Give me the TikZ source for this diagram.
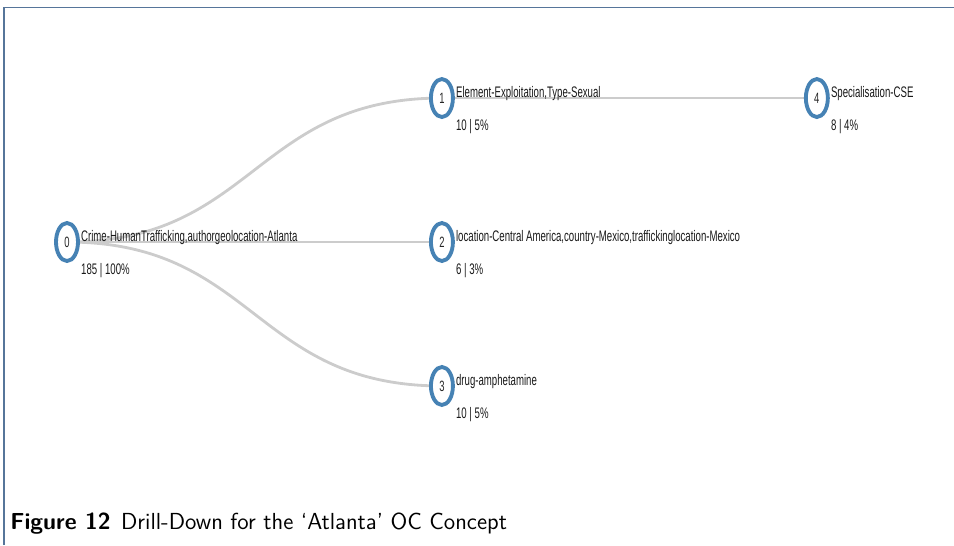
\documentclass[tikz,border=0pt]{standalone}
\usepackage{fontspec}
\usetikzlibrary{shapes.geometric, backgrounds}
\newfontfamily\estreita[FakeStretch=0.63]{Liberation Sans}
\definecolor{azulno}{HTML}{4682B4}
\definecolor{cinzaaresta}{HTML}{CCCCCC}
\definecolor{azulmoldura}{HTML}{56759A}
\tikzstyle{noarvore} = [ellipse, draw=azulno, line width=2.2pt, fill=white, inner sep=0pt, minimum width=0.44cm, minimum height=0.76cm, font=\estreita\fontsize{8.5}{10}\selectfont, text=black!85]
\tikzstyle{rotulo} = [anchor=west, inner sep=0pt, font=\estreita\fontsize{8.7}{10}\selectfont, text=black!90]
\tikzstyle{aresta} = [draw=cinzaaresta, line width=1.6pt]
\tikzstyle{legenda} = [anchor=west, inner sep=0pt, font=\sffamily\fontsize{13.2}{15}\selectfont]

\begin{document}
\begin{tikzpicture}[x=0.02cm, y=-0.02cm, node distance=7.5cm] %coordenadas em pixels da figura original
\useasboundingbox (0,0) rectangle (954,545);

%---------------------------------------------
%Nos da arvore (elipses azuis)
%---------------------------------------------
\node [noarvore] (n0) at (67,242) {0};
\node [noarvore, right of=n0] (n2) {2};
\node [noarvore, above of=n2, node distance=2.88cm] (n1) {1};
\node [noarvore, below of=n2, node distance=2.88cm] (n3) {3};
\node [noarvore, right of=n1] (n4) {4};

%---------------------------------------------
%Rotulos de cada no e contagens
%---------------------------------------------
\node [rotulo] (r0) at ([xshift=0.5pt, yshift=0.08cm]n0.east) {Crime-HumanTrafficking,authorgeolocation-Atlanta};
\node [rotulo] (c0) at ([xshift=0.5pt, yshift=-0.57cm]n0.east) {185 | 100\%};

\node [rotulo] (r1) at ([xshift=0.5pt, yshift=0.08cm]n1.east) {Element-Exploitation,Type-Sexual};
\node [rotulo] (c1) at ([xshift=0.5pt, yshift=-0.57cm]n1.east) {10 | 5\%};

\node [rotulo] (r2) at ([xshift=0.5pt, yshift=0.08cm]n2.east) {location-Central America,country-Mexico,traffickinglocation-Mexico};
\node [rotulo] (c2) at ([xshift=0.5pt, yshift=-0.57cm]n2.east) {6 | 3\%};

\node [rotulo] (r3) at ([xshift=0.5pt, yshift=0.08cm]n3.east) {drug-amphetamine};
\node [rotulo] (c3) at ([xshift=0.5pt, yshift=-0.57cm]n3.east) {10 | 5\%};

\node [rotulo] (r4) at ([xshift=0.5pt, yshift=0.08cm]n4.east) {Specialisation-CSE};
\node [rotulo] (c4) at ([xshift=0.5pt, yshift=-0.57cm]n4.east) {8 | 4\%};

%---------------------------------------------
%Arestas em curva, atras dos nos
%---------------------------------------------
\begin{pgfonlayer}{background}
\path [aresta] (n0.center) .. controls +(187.5,0) and +(-187.5,0) .. (n1.center);
\path [aresta] (n0.center) -- (n2.center);
\path [aresta] (n0.center) .. controls +(187.5,0) and +(-187.5,0) .. (n3.center);
\path [aresta] (n1.center) -- (n4.center);
\end{pgfonlayer}

%---------------------------------------------
%Moldura e legenda da figura
%---------------------------------------------
\draw [azulmoldura, line width=1pt] (4,545) -- (4,7.5) -- (954,7.5);
\node [legenda] (legenda) at (10,524) {\textbf{Figure 12}\hspace{0.45em}Drill-Down for the `Atlanta' OC Concept};

\end{tikzpicture}
\end{document}
